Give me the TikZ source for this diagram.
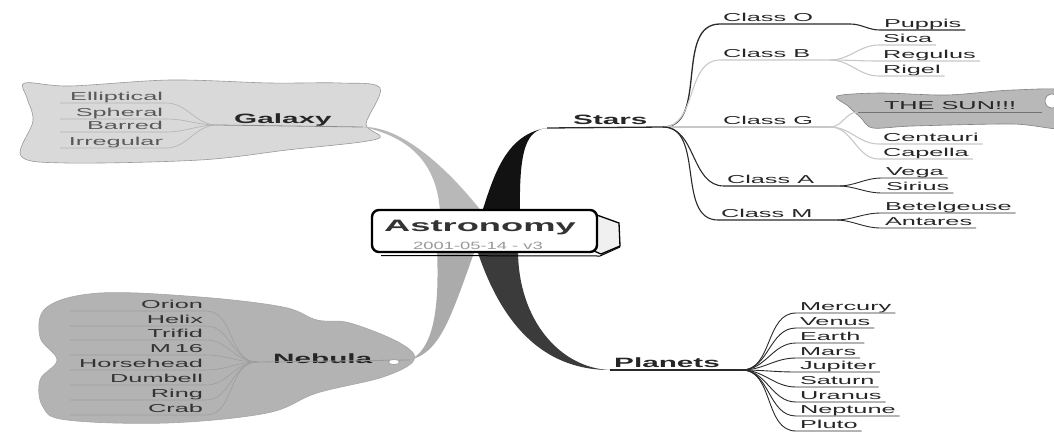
\documentclass[tikz,border=0pt]{standalone}
\usepackage{fontspec}
\usetikzlibrary{shapes.geometric}
\setmainfont[FakeStretch=2.2]{Liberation Sans}
\newfontfamily\datefont[FakeStretch=1.75]{Liberation Sans}
\definecolor{gcloudc}{HTML}{D9D9D9}
\definecolor{ncloudc}{HTML}{B3B3B3}
\definecolor{scloudc}{HTML}{B8B8B8}
\definecolor{lightln}{HTML}{C8C8C8}
\definecolor{darkln}{HTML}{2A2A2A}
\begin{document}
\begin{tikzpicture}[x=1pt,y=-1pt,
  leaf/.style={font=\fontsize{11.5}{13}\selectfont, text=black!85, inner xsep=4pt, inner ysep=0pt,
     text height=8.5pt, text depth=3pt, outer sep=0pt},
  gleaf/.style={leaf, text=black!65, text width=100pt, align=right, inner xsep=3pt},
  nleaf/.style={leaf, text=black!80, text width=130pt, align=right, inner xsep=3pt},
  cls/.style={leaf, inner xsep=3pt},
  bold/.style={font=\bfseries\fontsize{13.5}{15}\selectfont, text=black!85, inner sep=0pt},
  dkline/.style={draw=darkln, line width=1.1pt},
  ltline/.style={draw=lightln, line width=1.1pt},
  glline/.style={draw=black!30, line width=0.6pt},
  nlline/.style={draw=black!38, line width=0.6pt},
]
\useasboundingbox (0,0) rectangle (1054,437);
\clip (0,0) rectangle (1054,437);

% ---------- clouds ----------
\filldraw[fill=gcloudc, draw=black!40, line width=0.6pt] plot[smooth cycle, tension=0.55] coordinates
 {(25,83) (70,86) (170,80) (270,83) (340,83) (380,88) (366,124) (377,139) (287,150) (200,160) (67,163) (21,156) (33,121) (27,98)};
\filldraw[fill=ncloudc, draw=black!35, line width=0.6pt] plot[smooth cycle, tension=0.6] coordinates
 {(47,307) (100,293) (200,297) (283,307) (317,320) (350,323) (400,343) (414,360) (383,377) (317,393) (267,413) (167,423) (67,420) (43,407) (40,380) (57,360) (40,337)};
\filldraw[fill=scloudc, draw=black!50, line width=0.6pt] plot[smooth cycle, tension=0.5] coordinates
 {(837,96) (880,93) (947,95) (1013,90) (1070,92) (1070,128) (1013,124) (913,126) (873,128) (861,118) (848,106)};
\filldraw[fill=white, draw=black!50, line width=0.6pt] (1052,101) circle (7);

% ---------- tapered main branches ----------
\coordinate (gapex) at (363,127);
\coordinate (sapex) at (547,128);
\coordinate (napex) at (410,360);
\coordinate (papex) at (610,370);
\fill[black!28] (gapex) .. controls (400,126) and (445,165) .. (482,212) -- (440,212)
   .. controls (438,180) and (425,140) .. (gapex) -- cycle;
\fill[black!93] (482,212) .. controls (494,175) and (506,134) .. (sapex)
   .. controls (526,130) and (519,150) .. (520,212) -- cycle;
\fill[black!33] (437,250) .. controls (440,320) and (430,350) .. (napex)
   .. controls (440,352) and (450,320) .. (475,250) -- cycle;
\fill[black!77] (477,250) .. controls (500,320) and (540,370) .. (papex)
   .. controls (560,368) and (518,320) .. (518,250) -- cycle;

% ---------- central topic ----------
\filldraw[fill=black!6, draw=black, line width=1.3pt] (594,214) -- (619,223) -- (620,246) -- (601,254) -- (594,251) -- cycle;
\draw[black, line width=1pt] (381,255.5) -- (600,256) -- (620,247);
\node[draw=black, line width=2.4pt, rounded corners=7pt, fill=white, minimum width=225pt,
      minimum height=42pt, inner sep=0pt] (astro) at (484.5,231) {};
\node[font=\bfseries\fontsize{16.5}{18}\selectfont, text=black!80, inner sep=0pt] (astrot) at (480,228) {Astronomy};
\node[font=\datefont\fontsize{10.5}{12}\selectfont, text=black!40, inner sep=0pt] (astrod) at (478,246) {2001-05-14 - v3};

% ---------- Galaxy ----------
\coordinate (GF) at (217,125);
\node[bold, anchor=base west] (galaxy) at (234,123) {Galaxy};
\draw[draw=black!45, line width=0.8pt] (GF) -- (gapex);
\foreach \n/\y [count=\i] in {Elliptical/103,Spheral/119,Barred/132,Irregular/148}{
  \node[gleaf, anchor=south east] (gl\i) at (166,\y) {\n};
  \draw[glline] (gl\i.south west) -- (gl\i.south east) to[out=0,in=180] (GF);
}

% ---------- Nebula ----------
\coordinate (NF) at (257,362);
\node[bold, anchor=base west] (nebula) at (273,363) {Nebula};
\draw[draw=black!40, line width=0.8pt] (NF) -- (napex);
\node[draw=black!45, fill=white, ellipse, minimum width=11pt, minimum height=5pt, inner sep=0pt,
      line width=0.5pt] (nknob) at (394,362) {};
\foreach \n/\y [count=\i] in {Orion/311,Helix/326,Trifid/340,M 16/355,Horsehead/370,Dumbell/385,Ring/400,Crab/415}{
  \node[nleaf, anchor=south east] (nl\i) at (206,\y) {\n};
  \draw[nlline] (nl\i.south west) -- (nl\i.south east) to[out=0,in=180] (NF);
}

% ---------- Stars ----------
\coordinate (S) at (663,127);
\node[bold, anchor=base west] (stars) at (573,124) {Stars};
\draw[darkln, line width=1.3pt] (sapex) -- (S);

% Class O
\node[cls, anchor=south west] (clO) at (720,24) {Class O};
\coordinate (OF) at (850,24);
\node[leaf, anchor=south west] (puppis) at (880,30) {Puppis};
\draw[dkline, line width=1.3pt] (S) to[out=0,in=180] (clO.south west);
\draw[dkline] (clO.south west) -- (OF) to[out=0,in=180] (puppis.south west) -- (puppis.south east);

% Class B
\node[cls, anchor=south west] (clB) at (720,60) {Class B};
\coordinate (BF) at (830,60);
\draw[ltline] (S) to[out=0,in=180] (clB.south west) -- (BF);
\foreach \n/\y [count=\i] in {Sica/45,Regulus/61,Rigel/76}{
  \node[leaf, anchor=south west] (b\i) at (879,\y) {\n};
  \draw[ltline] (BF) to[out=0,in=180] (b\i.south west) -- (b\i.south east);
}

% Class G
\node[cls, anchor=south west] (clG) at (720,127) {Class G};
\coordinate (GGF) at (830,127);
\draw[ltline] (S) -- (clG.south west) -- (GGF);
\node[leaf, anchor=south west, inner xsep=26pt] (sun) at (858,112) {THE SUN!!!};
\draw[ltline] (GGF) to[out=0,in=180] (sun.south west);
\draw[draw=black!55, line width=0.8pt] (sun.south west) -- (sun.south east);
\foreach \n/\y [count=\i] in {Centauri/144,Capella/159}{
  \node[leaf, anchor=south west] (g\i) at (879,\y) {\n};
  \draw[ltline] (GGF) to[out=0,in=180] (g\i.south west) -- (g\i.south east);
}

% Class A
\node[cls, anchor=south west] (clA) at (724,186) {Class A};
\coordinate (AF) at (838,186);
\draw[dkline] (S) to[out=0,in=180] (clA.south west) -- (AF);
\foreach \n/\y [count=\i] in {Vega/178,Sirius/193}{
  \node[leaf, anchor=south west] (a\i) at (882,\y) {\n};
  \draw[dkline, line width=0.9pt] (AF) to[out=0,in=180] (a\i.south west) -- (a\i.south east);
}

% Class M
\node[cls, anchor=south west] (clM) at (718,220) {Class M};
\coordinate (MF) at (835,220);
\draw[dkline] (S) to[out=0,in=180] (clM.south west) -- (MF);
\foreach \n/\y [count=\i] in {Betelgeuse/213,Antares/228}{
  \node[leaf, anchor=south west] (m\i) at (881,\y) {\n};
  \draw[dkline, line width=0.9pt] (MF) to[out=0,in=180] (m\i.south west) -- (m\i.south east);
}

% ---------- Planets ----------
\coordinate (P) at (742,370);
\node[bold, anchor=base west] (planets) at (614,367) {Planets};
\draw[darkln, line width=1.3pt] (papex) -- (P);
\foreach \n/\y [count=\i] in {Mercury/313,Venus/328,Earth/343,Mars/358,Jupiter/372,Saturn/387,Uranus/402,Neptune/416,Pluto/431}{
  \node[leaf, anchor=south west] (pl\i) at (796,\y) {\n};
  \draw[dkline, line width=0.9pt] (P) to[out=0,in=180] (pl\i.south west) -- (pl\i.south east);
}
\end{tikzpicture}
\end{document}
